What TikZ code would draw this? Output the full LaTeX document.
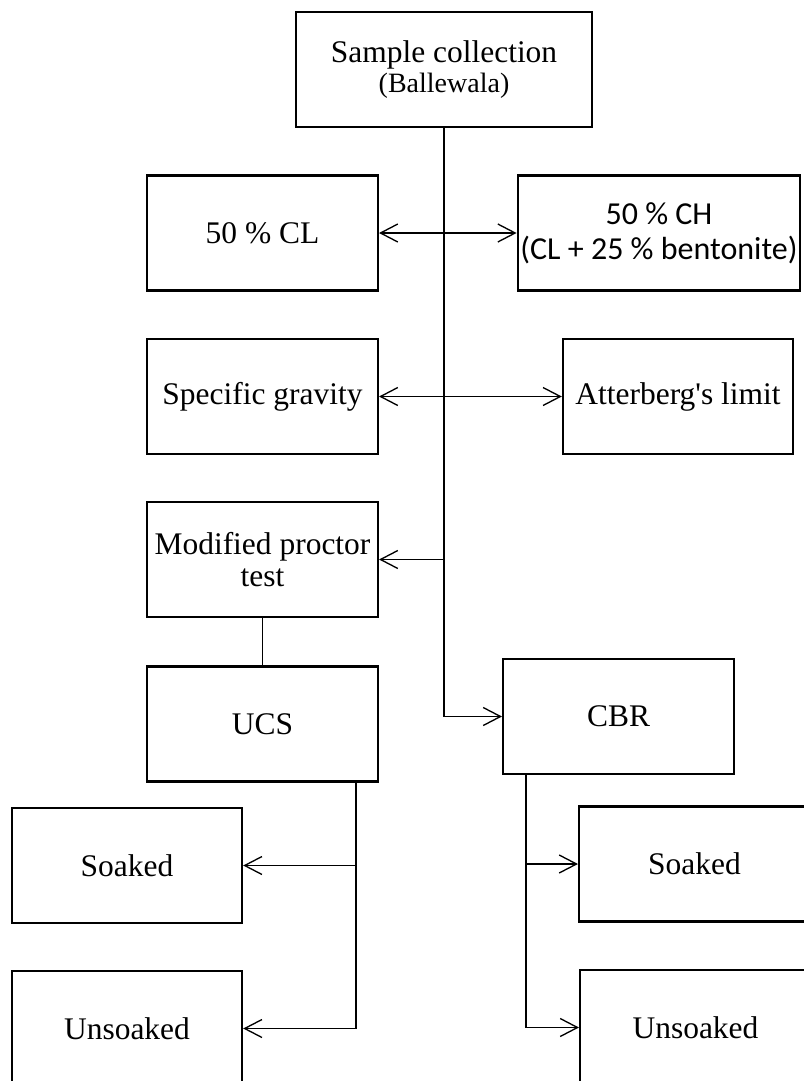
\documentclass[tikz,border=0pt]{standalone}
\usepackage{fontspec}
\setmainfont{Liberation Serif}
\newfontfamily\calibrifont{Carlito}
\usetikzlibrary{arrows.meta}

\begin{document}
\begin{tikzpicture}[x=0.75pt, y=-0.75pt,
        box/.style={draw, rectangle, line width=1.8pt, minimum width=173pt, minimum height=86pt,
            align=center, inner sep=2pt, font=\fontsize{23.6}{24.5}\selectfont},
        link/.style={line width=1.3pt},
        tip/.style={line width=1pt, -{Straight Barb[length=13pt, width=13.5pt, line width=1pt]}},
        bitip/.style={line width=1pt, {Straight Barb[length=13pt, width=13.5pt, line width=1pt]}-{Straight Barb[length=13pt, width=13.5pt, line width=1pt]}}]
        \useasboundingbox (0,0) rectangle (803,1081);

        % Source
        \node[box, minimum width=222pt] (sample) at (444,69.5) {
            Sample collection \\[-2pt]
            {\fontsize{21}{22}\selectfont (Ballewala)}
        };

        % Soil mixes
        \node[box] (cl) at (262.5,233) {50 \% CL};
        \node[box, minimum width=211.5pt, font=\calibrifont\fontsize{24}{26}\selectfont] (ch) at (659,233) {
            50 \% CH \\
            (CL + 25 \% bentonite)
        };

        % Index tests
        \node[box] (sg) at (262.5,396.5) {Specific gravity};
        \node[box, minimum width=172.5pt] (al) at (678,396.5) {Atterberg\textquotesingle s limit};

        % Compaction
        \node[box] (mpt) at (262.5,559.5) {Modified proctor \\ test};

        % Strength tests
        \node[box] (ucs) at (262.5,724) {UCS};
        \node[box] (cbr) at (618.5,716.5) {CBR};

        % Conditions
        \node[box, minimum width=172.5pt] (ucssoak) at (127,865.5) {Soaked};
        \node[box, minimum width=172.5pt] (ucsunsoak) at (127,1028.5) {Unsoaked};
        \node[box] (cbrsoak) at (694.5,864) {Soaked};
        \node[box] (cbrunsoak) at (695.5,1027.5) {Unsoaked};

        % Trunk
        \draw[link, -{Straight Barb[length=13pt, width=13.5pt, line width=1pt]}] (sample.south) |- (cbr.west);
        \coordinate (mptjoin) at (sample.south |- mpt.east);
        \draw[bitip] (cl.east) -- (ch.west);
        \draw[bitip] (sg.east) -- (al.west);
        \draw[tip] (mptjoin) -- (mpt.east);
        \draw[link] (mpt.south) -- (ucs.north);

        % Branches to soaked / unsoaked
        \path (ucs.south east) ++(-23,0) coordinate (ucsfork);
        \path (cbr.south west) ++(24,0) coordinate (cbrfork);
        \draw[link] (ucsfork) -- (ucsfork |- ucsunsoak.east);
        \draw[tip] (ucsfork |- ucssoak.east) -- (ucssoak.east);
        \draw[tip] (ucsfork |- ucsunsoak.east) -- (ucsunsoak.east);
        \draw[link] (cbrfork) -- (cbrfork |- cbrunsoak.west);
        \draw[tip] (cbrfork |- cbrsoak.west) -- (cbrsoak.west);
        \draw[tip] (cbrfork |- cbrunsoak.west) -- (cbrunsoak.west);
\end{tikzpicture}
\end{document}
